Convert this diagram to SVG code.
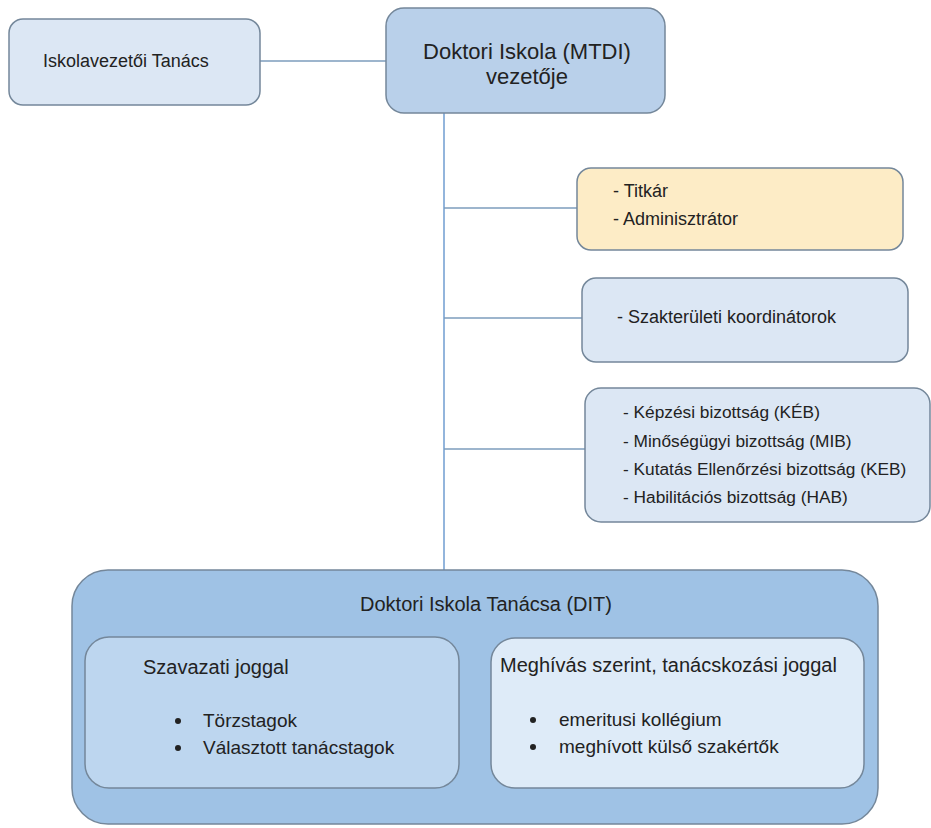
<svg xmlns="http://www.w3.org/2000/svg" width="931" height="828" viewBox="0 0 931 828">
<style>
  text { font-family: "Liberation Sans", Arial, sans-serif; fill: #222; }
  .box { stroke: #74879a; stroke-width: 1.5; }
  .light { fill: #dce7f4; }
  .conn { stroke: #7c9cbc; stroke-width: 1.5; fill: none; }
  .vconn { stroke: #93b5dc; stroke-width: 2; fill: none; }
  .t18 { font-size: 18px; }
  .t19 { font-size: 19px; }
  .t20 { font-size: 20px; }
</style>
<rect width="931" height="828" fill="#ffffff"/>
<g id="connectors">
  <line class="conn" x1="260" y1="61" x2="386" y2="61"/>
  <line class="vconn" x1="444" y1="113" x2="444" y2="570"/>
  <line class="conn" x1="444" y1="208" x2="577" y2="208"/>
  <line class="conn" x1="444" y1="318" x2="582" y2="318"/>
  <line class="conn" x1="444" y1="449" x2="585" y2="449"/>
</g>
<g id="iskolavezetoi">
  <rect class="box light" x="9" y="19" width="251" height="86" rx="14"/>
  <text class="t18" x="43" y="67">Iskolavezetői Tanács</text>
</g>
<g id="vezeto">
  <rect class="box" fill="#b9d0ea" x="386" y="8" width="279" height="105" rx="18"/>
  <text font-size="22" x="527" y="59" text-anchor="middle">Doktori Iskola (MTDI)</text>
  <text font-size="22" x="527" y="84" text-anchor="middle">vezetője</text>
</g>
<g id="titkar">
  <rect class="box" fill="#fdecc6" x="577" y="168" width="326" height="82" rx="14"/>
  <text class="t18" x="613" y="197">- Titkár</text>
  <text class="t18" x="613" y="225">- Adminisztrátor</text>
</g>
<g id="szakteruleti">
  <rect class="box light" x="582" y="278" width="326" height="84" rx="14"/>
  <text class="t18" x="617" y="323">- Szakterületi koordinátorok</text>
</g>
<g id="bizottsagok">
  <rect class="box light" x="585" y="388" width="345" height="134" rx="16"/>
  <text font-size="17.3" x="623" y="418">- Képzési bizottság (KÉB)</text>
  <text font-size="17.3" x="623" y="447">- Minőségügyi bizottság (MIB)</text>
  <text font-size="17.3" x="623" y="475">- Kutatás Ellenőrzési bizottság (KEB)</text>
  <text font-size="17.3" x="623" y="503">- Habilitációs bizottság (HAB)</text>
</g>
<g id="dit">
  <rect class="box" fill="#9fc2e5" x="72" y="570" width="806" height="254" rx="36"/>
  <text class="t20" x="486" y="611" text-anchor="middle">Doktori Iskola Tanácsa  (DIT)</text>
</g>
<g id="szavazati">
  <rect class="box" fill="#bdd6ef" x="85" y="637" width="374" height="151" rx="24"/>
  <text class="t20" x="143" y="674">Szavazati joggal</text>
  <circle cx="178" cy="721" r="3" fill="#222"/>
  <text class="t19" x="203" y="727">Törzstagok</text>
  <circle cx="178" cy="748" r="3" fill="#222"/>
  <text class="t19" x="203" y="754">Választott tanácstagok</text>
</g>
<g id="tanacskozasi">
  <rect class="box" fill="#deebf8" x="491" y="638" width="373" height="150" rx="24"/>
  <text class="t20" x="500" y="672">Meghívás szerint, tanácskozási joggal</text>
  <circle cx="533" cy="720" r="3" fill="#222"/>
  <text class="t19" x="559" y="726">emeritusi kollégium</text>
  <circle cx="533" cy="747" r="3" fill="#222"/>
  <text class="t19" x="559" y="753">meghívott külső szakértők</text>
</g>
</svg>
